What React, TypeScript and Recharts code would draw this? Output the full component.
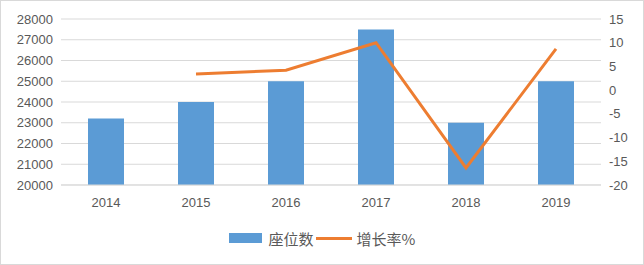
import {
  ComposedChart,
  Bar,
  Line,
  XAxis,
  YAxis,
  CartesianGrid,
  Legend,
} from "recharts";

const years = ["2014", "2015", "2016", "2017", "2018", "2019"];
const seats = [23200, 24000, 25000, 27500, 23000, 25000];
const growth: (number | null)[] = [null, 3.4, 4.2, 10, -16.4, 8.7];
const leftTicks = [20000, 21000, 22000, 23000, 24000, 25000, 26000, 27000, 28000];
const rightTicks = [-20, -15, -10, -5, 0, 5, 10, 15];

const data = years.map((y, i) => ({ name: y, seats: seats[i], growth: growth[i] }));

const tickStyle = { fill: "#595959", fontSize: 13, fontFamily: "Liberation Sans, Arial, sans-serif" };

function LegendBox() {
  return (
    <div
      style={{
        display: "flex",
        justifyContent: "center",
        alignItems: "center",
        fontFamily: "'Noto Sans CJK SC', sans-serif",
        fontSize: 15,
        color: "#595959",
        height: 26,
      }}
    >
      <span style={{ display: "inline-block", width: 33, height: 10, background: "#5b9bd5", marginRight: 7 }} />
      <span>座位数</span>
      <span style={{ display: "inline-block", width: 36, height: 3, background: "#ed7d31", margin: "0 5px 0 2px" }} />
      <span>增长率%</span>
    </div>
  );
}

export default function App() {
  return (
    <div
      style={{
        position: "absolute",
        left: 0,
        top: 0,
        width: 642,
        height: 263,
        border: "1px solid #d9d9d9",
        background: "#fff",
      }}
    >
      <div style={{ position: "absolute", left: -1, top: -1 }}>
        <ComposedChart
          width={644}
          height={265}
          data={data}
          margin={{ top: 19, right: 0, bottom: 14, left: 0 }}
        >
          <CartesianGrid yAxisId="left" vertical={false} stroke="#d9d9d9" />
          <XAxis
            dataKey="name"
            axisLine={{ stroke: "#d9d9d9" }}
            tickLine={false}
            tick={tickStyle}
            tickMargin={7}
            height={40}
          />
          <YAxis
            yAxisId="left"
            domain={[20000, 28000]}
            ticks={leftTicks}
            axisLine={false}
            tickLine={false}
            tick={tickStyle}
            tickMargin={2}
            width={61}
            interval={0}
          />
          <YAxis
            yAxisId="right"
            orientation="right"
            domain={[-20, 15]}
            ticks={rightTicks}
            axisLine={false}
            tickLine={false}
            tick={{ ...tickStyle, textAnchor: "start" }}
            tickMargin={2}
            width={43}
            interval={0}
          />
          <Legend verticalAlign="bottom" content={() => <LegendBox />} />
          <Bar yAxisId="left" dataKey="seats" fill="#5b9bd5" barSize={36} isAnimationActive={false} />
          <Line
            yAxisId="right"
            dataKey="growth"
            stroke="#ed7d31"
            strokeWidth={3}
            dot={false}
            activeDot={false}
            type="linear"
            isAnimationActive={false}
          />
        </ComposedChart>
      </div>
    </div>
  );
}
